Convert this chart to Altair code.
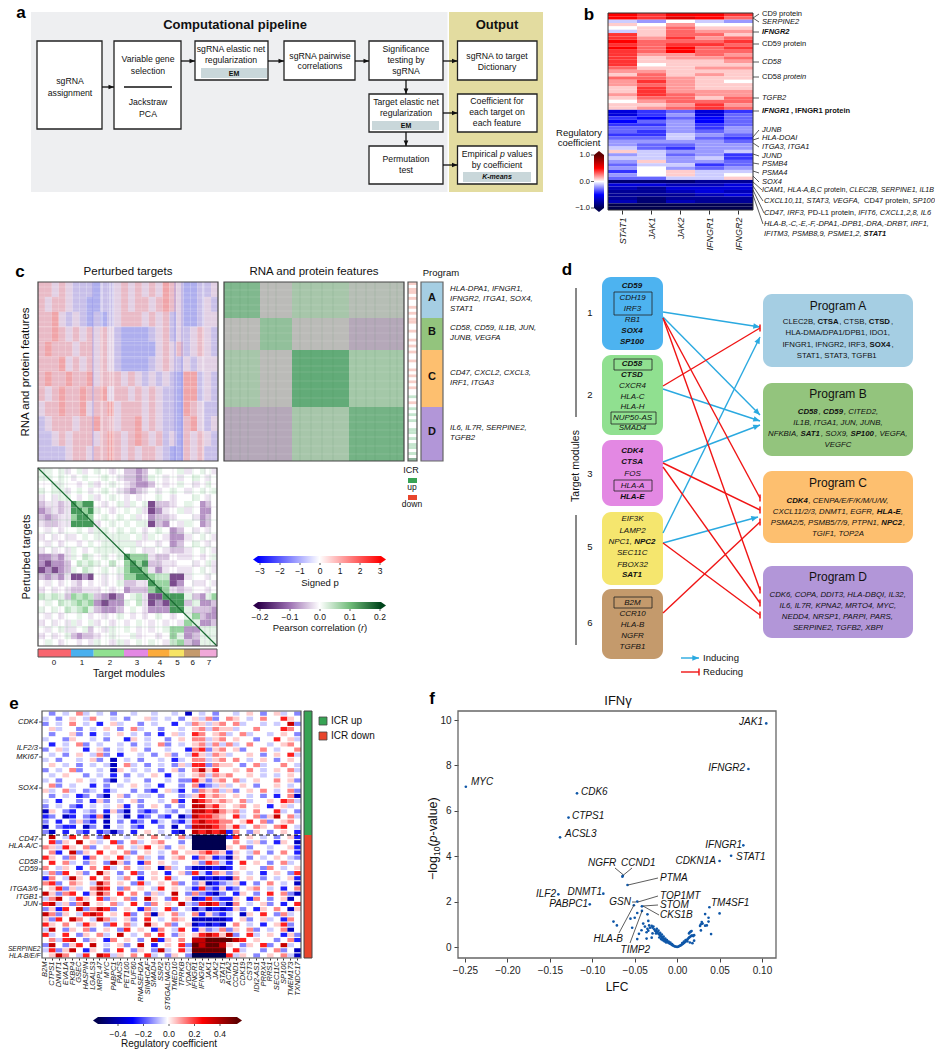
import math
from collections import defaultdict
import altair as alt
import pandas as pd

FONT = "Liberation Sans"
CX = alt.Scale(domain=[8, 935], range=[0, 927], zero=False, nice=False)
CY = alt.Scale(domain=[8, 1050], range=[0, 1042], zero=False, nice=False)
layers = []

# ---------- data ----------
B_COLS = ["STAT1", "JAK1", "JAK2", "IFNGR1", "IFNGR2"]
B_ROWS = [
 [5,4,5,5,4],[5,4,6,5,3],[-1,-2,0,-1,-2],[1,0,2,0,0],[0,1,3,1,1],[-1,1,3,2,2],[4,1,3,3,1],[4,2,4,2,3],
 [5,3,3,3,4],[4,3,4,4,3],[5,3,5,3,4],[4,3,5,3,3],[4,2,2,3,2],[4,1,2,2,3],[4,1,1,1,2],[4,0,1,1,1],
 [3,1,1,2,2],[2,2,1,1,1],[1,3,1,2,1],[3,3,2,1,1],[2,4,2,1,0],[2,3,2,1,1],[1,4,2,1,1],[1,4,2,2,2],
 [2,4,3,2,2],[1,3,3,1,3],[0,2,3,3,3],[1,1,2,4,2],[1,2,3,4,3],[-6,-4,-3,-6,-4],[-6,-4,-2,-6,-3],[-4,-5,-3,-5,-3],
 [-5,-3,-2,-5,-3],[-4,-4,-2,-4,-3],[-3,-3,-2,-4,-2],[-3,-4,-2,-3,-2],[-4,-4,-1,-2,-3],[-3,-3,-1,-3,-4],[-2,-2,-2,-2,-3],
 [-2,-3,-3,-2,-2],[-1,-3,-4,-2,-2],[1,-1,-2,-2,-1],[-2,-1,-3,-2,-4],[-1,-1,-2,-1,-4],[-2,1,-2,-2,-3],[-3,-1,-1,-4,-3],
 [-2,0,-2,-3,-2],[-4,0,1,-1,-1],[-2,0,1,-1,0],[-3,-3,-1,-1,1],[-9,-9,-9,-8,-8],[-6,-6,-7,-7,-6],[-7,-8,-6,-6,-6],
 [-8,-8,-7,-6,-7],[-8,-8,-8,-7,-6],[-8,-9,-8,-8,-8],[-7,-9,-7,-8,-8],[-10,-10,-10,-10,-10],[-10,-10,-10,-10,-10],
]
C_SIGNED = [
 "AA0A0aaabaa0A0A0A0BA0bbaa0","A0AA0aabbaa0A0AA0ABA0bba0a","AAB0a0ababa0AAA0A0Aa0bba00",
 "AABA0A0A0A0abbbba0Aa0a0A0a","ABAAA0AA0A0abbbbb0A0Aa0A0a","AAAB0A0A0A0abbbba0A0a0a000",
 "ABAABAAB0AAA0A0a0a0abBBa0a","A0ABAABAAB0AA0A0A0aabBBa0a","0AABAAB0AAB0AAA0A0aabBA0aa",
 "a0AAA0AABAA0AAB0A0aabAB0a0","aa0A0AAA0ABA0ABA0Aa0bA0A0a","aaaa0AA0AABA0A0AA0abbA0Aaa",
]
C_SIGNED_LINES = [287,293,298,304,309,316,322,327,333,339,345,352,358,364,369,376,382,388,395,401,408,414,420,427,433,439,446,452,457]
C_BLOCK_X = [224, 260, 292, 349, 404]
C_BLOCK_Y = [282, 318, 350, 407, 461]
C_BLOCKS = [[.55,0,.22,.05],[0,.4,0,-.04],[.22,0,.8,.25],[-.04,-.04,.22,.65]]
C_STRIPES_H = [290,297,305,311,326,333,341,358,366,372,381,389,398,415,422,430,437,446,454]
C_STRIPES_V = [231,240,248,268,276,300,311,322,333,356,366,375,390,397]
ICR = "r0rr0r00r0r0rr00r00r0r0r00r00r0r0r0r00g0r0g0g0g00gg0g0gg0g0G"
CORR = [
 "DA0Aa0Aa0A0a0bbcb0A00Aa0A0a","AD0A0a0A00A0abbcbA0a0a0A0a0","00DA00a0Aa0A0abccb0a0A0a0A0a"[:27],"A0ADa0A0a0A0abcba0a0A0a0A0A0"[:27],
 "a0aDD0a0Aa0A0a0a00A0a00A0a0A"[:27],"baabaDCDD0a0AaA0Adbba0A0cb0","cbabaDDCDA0a0A0Aadca0Aa0cc0","bcbaaCDDC0A0A0Aa0cbba00acb0"[:27],
 "abbaaDDDDa0A0A0AAdbc0aA0cb0","0a0a00A0aDA0A0A0a0A0cb0a0a0","a0a0aa0A0ADAAA0AaA0acca0A0a","0a0a00a0A0ADAAAa00a0cb0A0a0",
 "a0a0aA0a0AADD0A0aa0abba0A0a","ccbcaA0BA0A0ADCCCabb0aa0a0A","cdccb0BABA0B0CDCDbbaa00a0Aa","dcdcbA0BA0A0ACDDCaca0aa0A0a",
 "bcbcaddcd0a0aCCDDCBBdda00a0","0a0a0ab0a0a0AbbaaDCCdc0aa0a","a0a0abbaaa0a0cbbbCDCaba00a0","BABAbCBCBbcdc0ABaddDDDAbcAC",
 "0A0BABCBCcdccA0BadcdDDbAccb","A0A0BABCAbccb0A0acccDDAbbbc","0a0a00A0a0a0A0a0a0A0a0DCbcc","a0a0aAa0Aa0a0a0A0a0a0aCDccb",
 "0a0Aaa0Ab0aA0A0a0a0ACCccDAA","a0a0Abcbba0A00Aa00a0CDcbADA","0A0a00a0aA0aAa0A0A0aBCbcAAD",
]
CORR_SOFT_ROWS = [0, 1, 2, 3, 4, 9, 10, 11, 12, 22, 23, 24, 25, 26]
CORR_X = [38, 45, 51.5, 58, 64.5, 71, 76.7, 82.3, 88, 93.7, 101.2, 108.8, 116.4, 124, 130, 136, 142, 148, 155.2, 162.4, 169.7, 176.9, 184, 192, 200, 205.7, 211.4, 217]
CORR_Y = [468 + i * 178 / 27 for i in range(28)]
CORR_LINES_G = [(477,"h"),(492,"h"),(520,"h"),(533,"h"),(547,"h"),(574,"h"),(600,"h"),(627,"h"),(52,"v"),(67,"v"),(106,"v"),(119,"v"),(158,"v"),(193,"v"),(210,"v")]
CORR_LINES_P = [(484,"h"),(507,"h"),(541,"h"),(556,"h"),(566,"h"),(590,"h"),(613,"h"),(636,"h"),(44,"v"),(60,"v"),(99,"v"),(113,"v"),(145,"v"),(173,"v"),(205,"v")]
MOD_X = [38, 71, 93.7, 124, 148, 169.7, 184, 200, 217]
MOD_C = ["#f8656f", "#4ab0ee", "#90e090", "#e388e3", "#fbab3c", "#f7e464", "#c49a6c", "#f0a8d8"]
MOD_LAB = [("0", 54), ("1", 82), ("2", 110), ("3", 137), ("4", 160), ("5", 177.5), ("6", 192.7), ("7", 209)]

E_COLS = ["B2M","CTPS1","DNMT1","EVA1A","FKBP4","GSEC","HASPIN","LGALS3","MRPL47","MYC","PABPC1","PAICS","PET100","PUF60",
          "RNASEH2A","SINHCAF","SMAD4","SSR2","ST6GALNAC5","TMED10","TPRKB","VDAC2","IFNGR1","IFNGR2","JAK1","JAK2","STAT1",
          "ACTA2","CCND1","CDK19","CST3","IDI2-AS1","PRRX4","RRS1","SEC11C","SP100","TMEM173","TXNDC17"]
E_ROWS = [
 "0b0a0Ba0a0b00a00a00a0d0a0b00a0A0b0Aa0b","a0b0A0aB00a0b00Aa0a0b0AaBb0BA0a0B00CA0","b0a0B0a0c0Aa00b0a00c0aBAaAB0Ba00a0a0Db",
 "0Aa00b0a0A0b0Ba00b00a0ABaBAAa00B000CB0","0b00Ab0c0a0A0a0b0c0Aa0CB0ABa0Ba00a0A0b","a00bA00a0b00cA0a00b0A0BBaAB0A00b00C0Aa",
 "0c0a0Bb0a00a0b0a0Bb0a0ABaBaBa0B00a0AB0","b0Aa00c0Ab0a0A0b00a00cBCbAB0Ab00B0a00B","0a0b0A0aBb0c00a0b0Ab0aCAaBAa00A0b0A0Ca",
 "a0b00a0Ab0d0a0b00a0ca0BBaAB0B0a0A0b0A0","0A0a0b0a0ad0Ba0b0a0bAaCCbBAA0b0Ba00B0a","b0a0Bb00a0dA0a0a0b0Ab0BDAC00A0B0a0A0Ba",
 "0a0A00b0a0c0b0a0A0c0a0ABaBAB00A0a0a0A0","a0b00A0a0bd0a00b00a0bbCAbAB0Ba0A00B0Ab","0Bb0a00c0b0a0A0a0c00b0BcbaAa0A0b00A0a0",
 "Aa0Ba0ba0ca00b0bc0Aac0bBABaAb0A0B0a0Bb","0b0a0cb0bd0Ab0aa0b00baACABA0A0a0b0c0Bd","a0c00b0cAb0a0Ab00a0Bc0DCBABA0Ba00A0CBa",
 "b0a0bc0a0a0Ac0b0A0b0b0DDBCA0AB0A0c0Aa0","dA0bc0ab0cAbd0bcb0ab0aDDCDBABa0B00Ca0b","cb0dc0bcBd0ad0cb0bc0dbDCCBA0Ca0BbAD0Ba",
 "b0c0bAbc0d0b0cb0ca0bcaCDCCBB0AC0Bb0AB0","d0bcc0db0d0a0bc00b0d0bDDDCBACa0BA0BC0a","bd0c0bc0cbdb0c0A0a0cd0DCDCDcB0bA0b0A0c",
 "0D0aC0B0bD00a0A0B0a0BaeeeeecC0A0a0b0Ac","0CbA0D0Aa0Cb0Ba0AB00b0eeeee0B0aAb0cA0d","BAaCA0Bb0A0B0aAC0Ab0A0eeeeeA0Bb00a00Ac",
 "0Bc0DbA0C0A0Bb0A0a0B0AABCBAcA0aB0b0B0c","CA0bB0cB0A0Ca0Ba0b0AB0cBAcbdA0b0a0A0ab","0C0Ba0bA0bDAb0cB0A0a00AbCBac0C0A0b0Ba0",
 "B0aA0c0B0Ca0B0aA0dBa0bdddcdc0A00bB0a0A","aBbC0Ab0DA0b0Cb0A0c0AbCacBAbA0a0c0A0bC","cB0aDA0C0B0aB0c0A0Ca00cdcdcdB0A0b0a0Ac",
 "BCb0BA0aDB0A0bCa0A0Bb0bAdcbaAc0b0B0a0d","0ACbAa0BDC0bB0A0aC0A0acCbcAcb0AB0a0c0B","DAbBC0cADB0C0B0bAa0D0bBbcdb0cA0b0C0Bbd",
 "aBD0aCA0CbA0Bb0DA0bC0AdcCbccA0cB0b0Ad0","CDaAbBD0A0Ba0C0bB0A0DabCDCbdB0a0Ab0c0C","bAcC0DbBDCb0A0cBa0Cb0adbdcdcAb0cA0B0dA",
 "DBbA0aCDC0A0Cb0BdA0Ba0BcAbca0dA0C0bBa0","AbC0DB0aDBa0Ab0C0a0BA0dddddc0Ab0Aa0cB0","CA0B0aCA0bC0Ba0DA0Bb0Adcdcd0B0a0c0ACb0",
 "aD0bA0Bb0A0bC0A0cB0aC0cAbaBbA0Bb0a0Bd0","Ca0C0bA0Ba0D0a0B0C0bA0ACDCADb0Ca0A0cAb","0BaCD0bA0cB0A0b0DcA0B0DDEEEEDC0A00b0Bc",
 "bD0bAC0D0a0Ab0D0c0A0CbEDEEDA0bA0Cb0Da0","aCbAD0cA0b0C0bA0bDa0CaEEEEE0Ca00b0Bb0d","0ADB0aC0DCaA0B0Ca0bA0beeeeeCaA0b0A0Bad",
]
E_LEVEL = {"0":0,"a":-.05,"b":-.12,"c":-.22,"d":-.34,"e":-.6,"A":.05,"B":.12,"C":.22,"D":.34,"E":.6}
C_LEVEL = {"0":0,"a":-.02,"b":-.045,"c":-.08,"d":-.14,"A":.02,"B":.045,"C":.08,"D":.15}

VOLC = [(-.249,7.06),(-.118,6.77),(-.128,5.70),(-.138,4.83),(.105,9.85),(.084,7.84),(.078,4.48),(.0636,4.02),(.05,3.79),
 (-.064,3.14),(-.0645,3.1),(-.0585,2.73),(-.087,2.35),(-.14,2.32),(-.103,1.88),(-.051,1.84),(-.047,2.0),(-.0415,1.79),(-.0415,1.59),(.038,1.75),
 (.05,1.48),(.033,1.45),(.037,1.29),(.037,1.12),(.029,1.10),(.03,1.03),(.033,.94),(.027,.93),(.028,.73),(.04,.57),(.035,.95),(.028,1.0),
 (-.075,1.12),(-.071,.95),(-.053,.85),(-.055,1.25),(-.05,1.29),(-.047,1.5),(-.035,1.44),(-.034,1.15),(-.04,1.03),(-.033,.95),(-.032,.85),(-.035,.8),(-.036,.65),
 (-.036,.37),(-.03,.41),(-.029,.6),(-.042,.74),(-.045,.58),(-.047,.35),(-.038,.9),(-.034,.72),
 (-.03,.93),(-.029,.85),(-.028,.9),(-.027,.78),(-.026,.72),(-.025,.7),(-.024,.62),(-.023,.66),(-.022,.58),(-.021,.55),(-.02,.5),(-.019,.47),(-.018,.44),
 (-.017,.4),(-.016,.36),(-.015,.33),(-.014,.3),(-.013,.27),(-.012,.24),(-.011,.21),(-.01,.18),(-.009,.16),(-.008,.14),(-.007,.12),(-.006,.09),(-.005,.07),
 (-.004,.05),(-.003,.03),(-.002,.02),(-.001,.01),(0,0),(-.025,.6),(-.022,.72),(-.02,.62),(-.018,.55),(-.016,.46),(-.014,.37),(-.012,.3),(-.01,.24),(-.008,.19),(-.006,.13),
 (-.024,.8),(-.021,.42),(-.019,.35),(-.017,.3),(-.015,.25),(-.013,.2),
 (.001,.01),(.002,.03),(.003,.05),(.004,.07),(.005,.09),(.006,.12),(.007,.15),(.008,.18),(.009,.21),(.01,.25),(.011,.29),(.012,.33),(.013,.37),(.014,.41),(.015,.44),
 (.016,.47),(.017,.5),(.018,.5),(.019,.48),(.02,.52),(.015,.65),(.016,.68),(.014,.6),(.017,.7),(.012,.25),(.015,.2),(.018,.17),(.02,.28),(.01,.31),(.008,.24),(.006,.17),
]
F_LABELS = [("MYC",471,782,"left"),("CDK6",581,792,"left"),("CTPS1",572,816,"left"),("ACSL3",565,834,"left"),("JAK1",763,722,"right"),
 ("IFNGR2",745,768,"right"),("IFNGR1",742,845,"right"),("STAT1",736,857,"left"),("CDKN1A",716,861,"right"),("NGFR",588,863,"left"),
 ("CCND1",621,863,"left"),("PTMA",660,878,"left"),("DNMT1",602,892,"right"),("ILF2",556,894,"right"),("PABPC1",588,904,"right"),
 ("GSN",631,902,"right"),("TOP1MT",660,896,"left"),("STOM",660,905,"left"),("CKS1B",660,915,"left"),("TM4SF1",711,903,"left"),
 ("HLA-B",623,939,"right"),("TIMP2",650,950,"right")]
F_LEADERS = [(615,868,623.5,875),(632,868,623.5,875),(658,878,628,885),(632,902,636,902),(658,896,638,902),(658,905,643,906),
 (659,915,643,906),(619,933,634,905),(630,943,642,911)]

# ---------- helpers ----------
W = dict(zip("abcdefghijklmnopqrstuvwxyz",[.556,.556,.5,.556,.556,.278,.556,.556,.222,.222,.5,.222,.833,.556,.556,.556,.556,.333,.5,.278,.556,.5,.722,.5,.5,.5]))
W.update(zip("ABCDEFGHIJKLMNOPQRSTUVWXYZ",[.667,.667,.722,.722,.667,.611,.778,.722,.278,.5,.667,.556,.833,.722,.778,.667,.778,.722,.667,.611,.722,.667,.944,.667,.667,.611]))
W.update({" ":.278,",":.278,".":.278,"-":.333,"/":.278,"(":.333,")":.333})
def tw(s, size, bold=False):
    return sum(W.get(c, .556) for c in s) * size * (1.05 if bold else 1)

TEXTS = []
def T(x, y, s, size=9, weight="normal", style="normal", align="center", angle=0, color="#111111"):
    TEXTS.append(dict(x=x, y=y, t=s, size=size, weight=weight, style=style, align=align, angle=angle, color=color))

def R(x, y, markup, size=8, align="left", style="normal", weight="normal", color="#111111"):
    """markup: * toggles bold, ~ toggles italic"""
    segs, cur, b, i = [], "", weight == "bold", style == "italic"
    for ch in markup:
        if ch in "*~":
            if cur:
                segs.append((cur, b, i))
            cur = ""
            if ch == "*": b = not b
            else: i = not i
        else:
            cur += ch
    if cur:
        segs.append((cur, b, i))
    total = sum(tw(s, size, bb) for s, bb, _ in segs)
    off = {"left": 0, "center": -total / 2, "right": -total}[align]
    for s, bb, ii in segs:
        stripped = s.lstrip(" ")
        lead = tw(s[:len(s) - len(stripped)], size, bb)
        T(x + off + lead, y, stripped, size, "bold" if bb else "normal", "italic" if ii else "normal", "left", 0, color)
        off += tw(s, size, bb)

def pos(extra=None):
    e = dict(x=alt.X("x:Q", scale=CX, axis=None), y=alt.Y("y:Q", scale=CY, axis=None))
    if extra:
        e.update(extra)
    return e

def rects(rows, stroke=None, sw=1, radius=0):
    """rows: (x0,x1,y0,y1,fill)"""
    df = pd.DataFrame(rows, columns=["x", "x2", "y", "y2", "c"])
    kw = dict(cornerRadius=radius)
    if stroke:
        kw.update(stroke=stroke, strokeWidth=sw)
    layers.append(alt.Chart(df).mark_rect(**kw).encode(
        x=alt.X("x:Q", scale=CX, axis=None), x2="x2:Q",
        y=alt.Y("y:Q", scale=CY, axis=None), y2="y2:Q",
        fill=alt.Fill("c:N", scale=None)))

def frames(rows, stroke="#555555", sw=1.2):
    df = pd.DataFrame(rows, columns=["x", "x2", "y", "y2"])
    layers.append(alt.Chart(df).mark_rect(fillOpacity=0, stroke=stroke, strokeWidth=sw, fill="white").encode(
        x=alt.X("x:Q", scale=CX, axis=None), x2="x2:Q",
        y=alt.Y("y:Q", scale=CY, axis=None), y2="y2:Q"))

def lines(rows, color="#111111", sw=1, opacity=1, dash=None):
    df = pd.DataFrame(rows, columns=["x", "y", "x2", "y2"])
    kw = dict(color=color, strokeWidth=sw, opacity=opacity)
    if dash:
        kw["strokeDash"] = dash
    layers.append(alt.Chart(df).mark_rule(**kw).encode(
        x=alt.X("x:Q", scale=CX, axis=None), x2="x2:Q",
        y=alt.Y("y:Q", scale=CY, axis=None), y2="y2:Q"))

def heads(rows, shape, size):
    """rows: (x,y,angle,color)"""
    df = pd.DataFrame(rows, columns=["x", "y", "a", "c"])
    layers.append(alt.Chart(df).mark_point(shape=shape, filled=True, size=size, opacity=1, strokeWidth=0).encode(
        **pos(dict(angle=alt.Angle("a:Q", scale=None), fill=alt.Fill("c:N", scale=None)))))

ARROW = "M0,0L-0.85,2L0.85,2Z"
TIP = "M0,0L-1.4,2L1.4,2Z"
TIPB = "M0,0L-2.5,2L2.5,2Z"
def ang(x0, y0, x1, y1):
    return math.degrees(math.atan2(x1 - x0, -(y1 - y0))) % 360

def heat(matrix, x0, x1, y0, y1, dom, rng, xnames=None, axis=None, gap=0):
    nr, nc = len(matrix), len(matrix[0])
    names = xnames or list(range(nc))
    df = pd.DataFrame([dict(r=i, c=names[j], v=matrix[i][j]) for i in range(nr) for j in range(nc)])
    layers.append(alt.Chart(df).mark_rect().encode(
        x=alt.X("c:N" if xnames else "c:O", sort=names,
                scale=alt.Scale(domain=names, range=[x0 - 8, x1 - 8], paddingInner=0, paddingOuter=0), axis=axis),
        y=alt.Y("r:O", scale=alt.Scale(domain=list(range(nr)), range=[y0 - 8, y1 - 8], paddingInner=gap, paddingOuter=gap / 2), axis=None),
        color=alt.Color("v:Q", scale=alt.Scale(domain=dom, range=rng, clamp=True, interpolate="rgb"), legend=None)))

def gradbar(x0, x1, y0, y1, stops, vertical=False):
    g = alt.Gradient(gradient="linear", stops=[alt.GradientStop(color=c, offset=o) for o, c in stops],
                     x1=0, x2=0 if vertical else 1, y1=1 if vertical else 0, y2=0)
    df = pd.DataFrame([dict(x=x0, x2=x1, y=y0, y2=y1)])
    layers.append(alt.Chart(df).mark_rect(fill=g).encode(
        x=alt.X("x:Q", scale=CX, axis=None), x2="x2:Q",
        y=alt.Y("y:Q", scale=CY, axis=None), y2="y2:Q"))

# ---------- panel a ----------
rects([(31, 447.5, 12, 192, "#eeeff1"), (449, 543, 12, 192, "#e3dca0")])
A_BOX = [(37,102,41,129),(114,181,41,129),(195,268,41,80),(284,355,41,80),(369,443,41,80),(457.5,537,41,80),
         (369,443,94,132),(457.5,537,94,132),(369,443,146,184),(457.5,537,146,184)]
rects([b + ("#ffffff",) for b in A_BOX], stroke="#222222", sw=1.3)
rects([(201,267,68,78,"#c9d7da"),(372,439,121,130,"#c9d7da"),(463,531,172,182,"#c9d7da")])
lines([(124,87,172,87)], "#111111", 1.5)
A_ARR = [(102,87,114,87),(181,61,195,61),(268,61,284,61),(355,61,369,61),(443,61,457.5,61),(406,80,406,94),
         (443,113,457.5,113),(406,132,406,146),(443,165,457.5,165)]
lines(A_ARR, "#111111", 1.3)
heads([(x1, y1, ang(x0, y0, x1, y1), "#111111") for x0, y0, x1, y1 in A_ARR], ARROW, 30)
T(235, 25, "Computational pipeline", 13, "bold")
T(497, 25, "Output", 13, "bold")
for x, y, s in [(70,81,"sgRNA"),(70,93,"assignment"),(148,59,"Variable gene"),(148,71,"selection"),(148,102,"Jackstraw"),(148,114,"PCA"),
                (231,49,"sgRNA elastic net"),(231,60,"regularization"),(320,56,"sgRNA pairwise"),(320,66,"correlations"),
                (406,49,"Significance"),(406,60,"testing by"),(406,71,"sgRNA"),(406,102,"Target elastic net"),(406,113,"regularization"),
                (406,159,"Permutation"),(406,170,"test"),(497,56,"sgRNA to target"),(497,67,"Dictionary"),
                (497,101,"Coefficient for"),(497,112,"each target on"),(497,123,"each feature"),(497,165,"by coefficient")]:
    T(x, y, s, 8.7)
R(497, 154, "Empirical ~p~ values", 8.7, "center")
for x, y in [(234, 74), (406, 125.5)]:
    T(x, y, "EM", 7, "bold")
T(497, 177, "K-means", 7, "bold", "italic")

# ---------- panel b ----------
heat(B_ROWS, 608, 753, 13, 210, [-10, -5, 0, 5, 10], ["#000050", "#0000ff", "#ffffff", "#ff0000", "#600000"],
     xnames=B_COLS, axis=alt.Axis(orient="bottom", offset=-840, title=None, labelAngle=-90, labelFontStyle="italic", labelFont=FONT,
                                  labelFontSize=9, labelColor="#222222", tickColor="#333333", tickSize=4, domain=False, grid=False,
                                  labelPadding=3, labelOverlap=False))
frames([(608, 753, 13, 210)], "#333333", 1)
B_LEAD = [(753,18,759,14),(753,18,759,22),(753,32,759,32),(753,44,759,44),(753,62,759,62),(753,77,759,77),(753,98,759,98),(753,111,759,111),
          (753,137,759,130),(753,140,759,138),(753,143,759,147),(753,154,759,156),(753,163,759,164),(753,171,759,173),(753,176,759,182),
          (753,182,762,190),(753,186,763,201),(753,190,764,213),(753,195,763,224)]
lines(B_LEAD, "#333333", 0.8)
for y, s in [(14,"CD9 protein"),(22,"~SERPINE2~"),(32,"*~IFNGR2~*"),(44,"CD59 protein"),(62,"~CD58~"),(77,"CD58 ~protein~"),(98,"~TGFB2~"),
             (111,"*~IFNGR1~, IFNGR1 protein*"),(130,"~JUNB~"),(138,"~HLA-DOAI~"),(147,"~ITGA3, ITGA1~"),(156,"~JUND~"),(164,"~PSMB4~"),(173,"~PSMA4~"),
             (182,"~SOX4~")]:
    R(762, y, s, 7.5)
R(762, 190, "~ICAM1, HLA-A,B,C~ protein, ~CLEC2B, SERPINE1, IL1B~", 7.05)
for y, s in [(201,"~CXCL10,11, STAT3, VEGFA,~ CD47 protein, ~SP100~"),(213,"~CD47, IRF3,~ PD-L1 protein, ~IFIT6, CXCL1,2,8, IL6~"),
             (224,"~HLA-B,-C,-E,-F,-DPA1,-DPB1,-DRA,-DRBT, IRF1,~"),(234,"~IFITM3, PSMB8,9, PSME1,2,~ *~STAT1~*")]:
    R(764, y, s, 7.5)
T(579, 133, "Regulatory", 9.5)
T(579, 143, "coefficient", 9.5)
gradbar(594, 604, 155, 208, [(0,"#000050"),(.25,"#0000ff"),(.5,"#ffffff"),(.75,"#ff0000"),(1,"#600000")], vertical=True)
heads([(599, 151, 0, "#600000"), (599, 212, 180, "#000050")], TIPB, 16)
lines([(591,155,594,155),(591,181.5,594,181.5),(591,208,594,208)], "#333333", .8)
for y, s in [(155,"1.0"),(181.5,"0.0"),(208,"−1.0")]:
    T(590, y, s, 7.5, align="right")

# ---------- panel c ----------
heat([[{"0":0,"a":-1,"b":-2,"A":1,"B":2}[c] for c in row] for row in C_SIGNED], 38, 218, 282, 461, [-2, 0, 2], ["#aeaeee", "#e2d0e4", "#f0a4a8"])
lines([(38, y, 218, y) for y in C_SIGNED_LINES], "#ffffff", 1, .22)
lines([(x, 282, x, 461) for x in (102, 110, 113, 203)], "#ffffff", 1, .7)
lines([(x, 282, x, 461) for x in (93, 175, 182)], "#8f8fe8", 1.5, .45)
rows = []
for i in range(4):
    for j in range(4):
        rows.append(dict(x=C_BLOCK_X[j], x2=C_BLOCK_X[j+1], y=C_BLOCK_Y[i], y2=C_BLOCK_Y[i+1], v=C_BLOCKS[i][j]))
layers.append(alt.Chart(pd.DataFrame(rows)).mark_rect().encode(
    x=alt.X("x:Q", scale=CX, axis=None), x2="x2:Q", y=alt.Y("y:Q", scale=CY, axis=None), y2="y2:Q",
    color=alt.Color("v:Q", scale=alt.Scale(domain=[-.04, 0, .25, .8], range=["#b5a8b9", "#bbbbb8", "#a4c8a8", "#62ab78"], interpolate="rgb"), legend=None)))
lines([(224, y, 404, y) for y in C_STRIPES_H], "#ffffff", 1, .12)
lines([(x, 282, x, 461) for x in C_STRIPES_V], "#2f7f45", 1, .1)
frames([(38, 218, 282, 461), (224, 404, 282, 461)], "#444444", 1.2)
heat([[{"0":0,"r":-1,"g":1,"G":2}[c]] for c in ICR], 408, 417, 282, 461, [-1, 0, 1, 2], ["#f8cfc9", "#ffffff", "#c5e6ce", "#8fb39b"])
frames([(408, 417, 282, 461)], "#555555", 1.2)
rects([(421,443,282,318,"#a5cee3"),(421,443,318,350,"#93c47d"),(421,443,350,407,"#fdbf6f"),(421,443,407,461,"#b296d8")])
frames([(421, 443, 282, 461)], "#666666", 1.2)
for y, s in [(298,"A"),(332,"B"),(377,"C"),(432,"D")]:
    T(432, y, s, 11, "bold")
T(128, 272, "Perturbed targets", 11.5)
T(314, 272, "RNA and protein features", 11.5)
T(441, 273, "Program", 9.5)
for y, s in [(289,"HLA-DPA1, IFNGR1,"),(299,"IFNGR2, ITGA1, SOX4,"),(309,"STAT1"),(328,"CD58, CD59, IL1B, JUN,"),(338,"JUNB, VEGFA"),
             (373,"CD47, CXCL2, CXCL3,"),(383,"IRF1, ITGA3"),(428,"IL6, IL7R, SERPINE2,"),(438,"TGFB2")]:
    T(450, y, s, 7.8, style="italic", align="left")
T(26, 372, "RNA and protein features", 11.5, angle=270)
# correlation heat
rows = []
for i, row in enumerate(CORR):
    text = row.replace("D", "A") if i in CORR_SOFT_ROWS else row
    for j, ch in enumerate(text):
        rows.append(dict(x=CORR_X[j], x2=CORR_X[j+1], y=CORR_Y[i], y2=CORR_Y[i+1], v=C_LEVEL[ch]))
layers.append(alt.Chart(pd.DataFrame(rows)).mark_rect().encode(
    x=alt.X("x:Q", scale=CX, axis=None), x2="x2:Q", y=alt.Y("y:Q", scale=CY, axis=None), y2="y2:Q",
    color=alt.Color("v:Q", scale=alt.Scale(domain=[-.2, -.1, 0, .1, .2], range=["#3f0a50", "#a57ab8", "#ffffff", "#7fc98a", "#0d6a2c"], interpolate="rgb"), legend=None)))
def corr_lines(spec):
    return [(38, p, 217, p) if k == "h" else (p, 468, p, 646) for p, k in spec]
lines(corr_lines(CORR_LINES_G), "#3f9a55", 1, .16)
lines(corr_lines(CORR_LINES_P), "#7f4a96", 1, .14)
lines([(38, 468, 217, 646)], "#1a6b33", 1.2)
frames([(38, 217, 468, 646)], "#444444", 1.2)
rects([(MOD_X[i], MOD_X[i+1], 649, 657, MOD_C[i]) for i in range(8)])
frames([(38, 217, 649, 657)], "#555555", 1)
for s, x in MOD_LAB:
    T(x, 663, s, 8)
T(129, 674, "Target modules", 10.5)
T(27, 557, "Perturbed targets", 11, angle=270)
T(411, 470, "ICR", 9)
rects([(408,417,478,483,"#37a354"),(408,417,495,500,"#e8452c")])
T(412, 487, "up", 8.5)
T(412, 504, "down", 8.5)
# legends c
gradbar(258, 381, 556, 563, [(0,"#0000ff"),(.5,"#ffffff"),(1,"#ff0000")])
heads([(253, 559.5, 270, "#0000ff"), (386, 559.5, 90, "#ff0000")], TIP, 25)
for s, x in [("−3",260),("−2",280),("−1",300),("0",320),("1",340),("2",360),("3",380)]:
    T(x, 571, s, 8.5)
lines([(x, 563, x, 565) for x in (260,280,300,320,340,360,380)], "#333333", .8)
T(320, 583, "Signed p", 9.5)
gradbar(258, 381, 602, 609, [(0,"#2c004a"),(.25,"#9a6db0"),(.5,"#ffffff"),(.75,"#6fbb78"),(1,"#00441b")])
heads([(253, 605.5, 270, "#2c004a"), (386, 605.5, 90, "#00441b")], TIP, 25)
for s, x in [("−0.2",260),("−0.1",290),("0.0",320),("0.1",350),("0.2",380)]:
    T(x, 617, s, 8.5)
lines([(x, 609, x, 611) for x in (260,290,320,350,380)], "#333333", .8)
R(320, 628, "Pearson correlation (~r~)", 9.5, "center")

# ---------- panel d ----------
rects([(602,663,277,350,"#4db3f0"),(602,663,355,435,"#90e090"),(602,663,440,506,"#e388e3"),(602,663,512,585,"#f5e66e"),(602,663,589,659,"#c49a6c")], radius=9)
rects([(763,913,294,367,"#a5cee3"),(763,913,383,456,"#93c47d"),(763,913,471,543,"#fdbf6f"),(763,913,566,638,"#b296d8")], radius=9)
frames([(614,652,292,315),(614,652,359,370),(611,656,412,424),(614,652,480,491),(614,652,597,608)], "#222222", 0.8)
lines([(576,288,576,417),(576,515,576,645)], "#111111", 1)
T(576, 466, "Target modules", 10.5, angle=270)
for y, s in [(313,"1"),(395,"2"),(474,"3"),(547,"5"),(623,"6")]:
    T(590, y, s, 9.5)
D_LEFT = [(286,"*CD59*"),(298,"CDH19"),(309,"IRF3"),(320,"RB1"),(331,"*SOX4*"),(342,"*SP100*"),
          (364,"*CD58*"),(375,"*CTSD*"),(386,"CXCR4"),(397,"HLA-C"),(407,"HLA-H"),(418,"NUP50-AS"),(428,"SMAD4"),
          (451,"*CDK4*"),(462,"*CTSA*"),(474,"FOS"),(486,"HLA-A"),(497,"*HLA-E*"),
          (519,"EIF3K"),(531,"LAMP2"),(542,"NPC1, *NPC2*"),(553,"SEC11C"),(564.5,"FBOX32"),(575,"*SAT1*"),
          (603,"B2M"),(614,"CCR10"),(625,"HLA-B"),(636,"NGFR"),(647,"TGFB1")]
for y, s in D_LEFT:
    R(632.5, y, s, 8, "center", "italic")
D_RIGHT = [(306,"Program A"),(394,"Program B"),(483,"Program C"),(577,"Program D")]
for y, s in D_RIGHT:
    T(838, y, s, 12)
for y, s in [(322,"CLEC2B, *CTSA*, CTSB, *CTSD*,"),(333,"HLA-DMA/DPA1/DPB1, IDO1,"),(345,"IFNGR1, IFNGR2, IRF3, *SOX4*,"),(356,"STAT1, STAT3, TGFB1")]:
    R(838, y, s, 7.8, "center")
for y, s in [(412,"*CD58*, *CD59*, CITED2,"),(423,"IL1B, ITGA1, JUN, JUNB,"),(434,"NFKBIA, *SAT1*, SOX9, *SP100*, VEGFA,"),(445,"VEGFC"),
             (501,"*CDK4*, CENPA/E/F/K/M/U/W,"),(512,"CXCL11/2/3, DNMT1, EGFR, *HLA-E*,"),(523,"PSMA2/5, PSMB5/7/9, PTPN1, *NPC2*,"),(534,"TGIF1, TOP2A"),
             (595,"CDK6, COPA, DDIT3, HLA-DBQI, IL32,"),(606,"IL6, IL7R, KPNA2, MRTO4, MYC,"),(617,"NEDD4, NRSP1, PARPI, PARS,"),(628,"SERPINE2, TGFB2, XBPI")]:
    R(838, y, s, 7.8, "center", "italic")
BLUE, RED = "#2aa9e0", "#f01414"
D_BLUE = [(663,312,760,327),(663,317,760,415),(663,389,760,421),(663,462,760,425),(663,533,760,337),(663,543,758,517),(681,658,699,658)]
D_RED = [(663,386,760,328),(663,318,760,498),(663,318,760,590),(663,463,760,510),(663,467,760,603),(663,543,760,615),(663,613,760,522),(681,672,699,672)]
lines(D_BLUE, BLUE, 1.4)
lines(D_RED, RED, 1.4)
heads([(a, b, ang(x, y, a, b), BLUE) for x, y, a, b in D_BLUE], ARROW, 45)
lines([(a, b - 3.5, a, b + 3.5) for x, y, a, b in D_RED], RED, 1.5)
T(703, 658, "Inducing", 9.5, align="left")
T(703, 672, "Reducing", 9.5, align="left")

# ---------- panel e ----------
rects([(192,226,834.5,850,"#000050"),(192,226,937.5,953,"#a8000c"),(192,226,953,958,"#000050"),(192,226,809,834.5,"#ffb0b0")])
heat([[E_LEVEL[c] for c in r] for r in E_ROWS], 42, 301, 711, 958, [-.5, -.25, 0, .25, .5], ["#000050", "#0000ff", "#ffffff", "#ff0000", "#600000"],
     xnames=E_COLS, gap=.2,
     axis=alt.Axis(orient="bottom", offset=-92, title=None, labelAngle=-90, labelFontStyle="italic", labelFont=FONT, labelFontSize=7.5,
                   labelColor="#222222", tickColor="#333333", tickSize=2, domain=False, grid=False, labelPadding=1, labelOverlap=False))
frames([(42, 301, 711, 958)], "#555555", 1.2)
lines([(42, 835, 301, 835)], "#000000", 1.2, dash=[4, 3])
rects([(304,312,711,835,"#37a354"),(304,312,835,958,"#e8452c")])
frames([(304,312,711,958)], "#444444", 1)
rects([(319,327,717,725,"#37a354"),(319,327,732,740,"#e8452c")], stroke="#444444", sw=.8)
T(331, 721, "ICR up", 10, align="left")
T(331, 736, "ICR down", 10, align="left")
E_LAB = [("CDK4",722,7.5),("ILF2/3",748,7.5),("MKI67",757,7.5),("SOX4",788,7.5),("CD47",839,7.5),("HLA-A/C",846,7.5),("CD58",862,7.5),("CD59",869,7.5),
         ("ITGA3/6",889,7.5),("ITGB1",897,7.5),("JUN",904,7.5),("SERPINE2",949,6.6),("HLA-B/E/F",956,6.6)]
for s, y, size in E_LAB:
    T(38 if size > 7 else 40.5, y, s, size, style="italic", align="right")
lines([(39, y, 42, y) for s, y, _ in E_LAB[:-2]], "#333333", .8)
gradbar(98, 237, 1017, 1024, [(0,"#000050"),(.25,"#0000ff"),(.5,"#ffffff"),(.75,"#ff0000"),(1,"#600000")])
heads([(93, 1020.5, 270, "#000050"), (242, 1020.5, 90, "#600000")], TIP, 25)
for s, x in [("−0.4",118),("−0.2",143.5),("0.0",169),("0.2",194.5),("0.4",220)]:
    T(x, 1034, s, 8.5)
lines([(x, 1024, x, 1026) for x in (118,143.5,169,194.5,220)], "#333333", .8)
T(169, 1044, "Regulatory coefficient", 10)

# ---------- panel f ----------
frames([(458, 776, 711, 958)], "#666666", 1.3)
vol = pd.DataFrame(VOLC, columns=["lfc", "p"])
layers.append(alt.Chart(vol).mark_circle(size=7, color="#0f57a8", opacity=1).encode(
    x=alt.X("lfc:Q", scale=alt.Scale(domain=[-.25, .1], range=[465 - 8, 762 - 8], zero=False, nice=False),
            axis=alt.Axis(orient="bottom", offset=-92, title=None, values=[-.25,-.2,-.15,-.1,-.05,0,.05,.1], format=".2f", labelFont=FONT, labelFontSize=10,
                          labelColor="#222222", tickColor="#444444", tickSize=4, domain=False, grid=False, labelPadding=3, labelOverlap=False, labelFlush=False)),
    y=alt.Y("p:Q", scale=alt.Scale(domain=[0, 10], range=[947 - 8, 720 - 8], zero=False, nice=False),
            axis=alt.Axis(orient="left", offset=-450, title=None, values=[0,2,4,6,8,10], labelFont=FONT, labelFontSize=10, labelColor="#222222",
                          tickColor="#444444", tickSize=4, domain=False, grid=False, labelPadding=3))))
lines(F_LEADERS, "#333333", .8)
for s, x, y, al in F_LABELS:
    T(x, y, s, 10, style="italic", align=al)
T(618, 701, "IFNγ", 13)
T(617, 987, "LFC", 12)
T(433, 880, "−log", 12.5, style="normal", align="left", angle=270)
T(437, 856, "10", 8.5, style="normal", align="left", angle=270)
T(433, 846.5, "(", 12.5, style="normal", align="left", angle=270)
T(433, 842.5, "p", 12.5, style="italic", align="left", angle=270)
T(433, 835.5, "-value)", 12.5, style="normal", align="left", angle=270)

# panel letters
for x, y, s in [(21,13,"a"),(589,15,"b"),(20,272,"c"),(567,270,"d"),(14,704,"e"),(432,699,"f")]:
    T(x, y, s, 17, "bold", color="#000000")

# text layers grouped by style
groups = defaultdict(list)
for t in TEXTS:
    groups[(t["size"], t["weight"], t["style"], t["align"], t["angle"], t["color"])].append(t)
for (size, weight, style, align, angle, color), rows in groups.items():
    df = pd.DataFrame(rows)[["x", "y", "t"]]
    layers.append(alt.Chart(df).mark_text(font=FONT, fontSize=size, fontWeight=weight, fontStyle=style, align=align,
                                          angle=angle, baseline="middle", color=color).encode(**pos(dict(text="t:N"))))

chart = alt.layer(*layers).resolve_scale(x="independent", y="independent", color="independent", fill="independent").resolve_axis(
    x="independent", y="independent").properties(
    width=927, height=1042, padding=0, autosize=alt.AutoSizeParams(type="none"), background="white"
).configure_view(stroke=None)

chart.save("out.html", embed_options={"renderer": "svg", "actions": False})
